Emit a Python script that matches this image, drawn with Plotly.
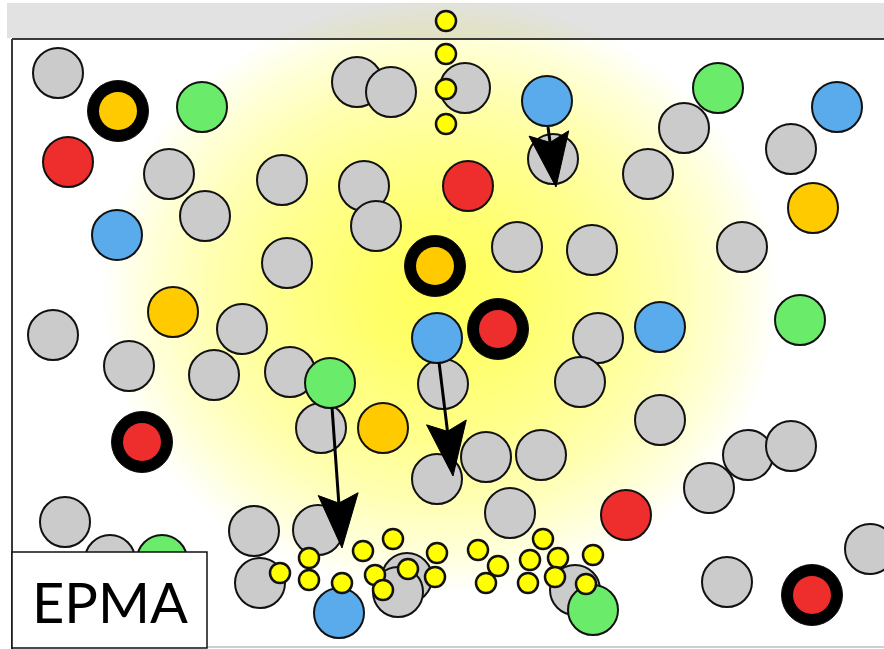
import plotly.graph_objects as go

# ---- data (schematic positions, image pixel units) ----
gray_x = [58, 357, 391, 465, 684, 791, 169, 282, 364, 553, 648, 205, 376, 287, 517, 592, 742,
          53, 242, 129, 214, 290, 443, 598, 580, 660, 321, 437, 486, 541, 510, 318, 254, 260,
          407, 398, 575, 709, 748, 791, 727, 870, 65, 110]
gray_y = [73, 82, 92, 88, 128, 149, 174, 180, 186, 159, 174, 216, 226, 263, 247, 250, 247,
          335, 329, 366, 375, 372, 384, 338, 382, 420, 428, 479, 457, 455, 513, 530, 531, 583,
          578, 592, 590, 488, 455, 446, 582, 549, 522, 560]

red_x = [68, 468, 626]
red_y = [162, 186, 515]
green_x = [202, 718, 800, 330, 593, 162]
green_y = [107, 88, 320, 383, 610, 560]
blue_x = [117, 547, 837, 437, 660, 339]
blue_y = [235, 101, 107, 338, 327, 613]
orange_x = [813, 173, 383]
orange_y = [208, 312, 428]

ring_x = [118, 435, 498, 142, 812]
ring_y = [111, 266, 329, 442, 595]
ring_fill = ["#ffcb00", "#ffcb00", "#ee2d2d", "#ee2d2d", "#ee2d2d"]

dot_x = [446, 446, 446, 446, 280, 309, 309, 342, 363, 393, 375, 383, 408, 437, 435,
         478, 498, 486, 543, 530, 528, 558, 555, 593, 586]
dot_y = [21, 54, 89, 124, 573, 558, 580, 583, 551, 539, 575, 590, 569, 553, 577,
         550, 566, 583, 539, 560, 583, 558, 577, 555, 584]

arrow_x0 = [548, 439, 332]
arrow_y0 = [127, 362, 407]
arrow_x1 = [556, 453, 342]
arrow_y1 = [187, 476, 548]

label = "EPMA"

W, H = 884, 649
fig = go.Figure()

def circles(xs, ys, color, size=50, lw=2):
    fig.add_trace(go.Scatter(
        x=xs, y=ys, mode="markers", hoverinfo="skip", showlegend=False,
        marker=dict(size=size, color=color, line=dict(color="#111111", width=lw))))

circles(gray_x, gray_y, "#cbcbcb")
circles(red_x, red_y, "#ee2d2d")
circles(green_x, green_y, "#6aeb6a")
circles(blue_x, blue_y, "#5aabeb")
circles(orange_x, orange_y, "#ffcb00")
circles(ring_x, ring_y, "#000000", size=61, lw=1)
fig.add_trace(go.Scatter(x=ring_x, y=ring_y, mode="markers", hoverinfo="skip", showlegend=False,
                         marker=dict(size=38, color=ring_fill, line=dict(width=0))))
circles(dot_x, dot_y, "#ffff00", size=20, lw=2.5)

shapes = []
# top gray bar
shapes.append(dict(type="rect", xref="x", yref="y", x0=7, x1=W, y0=3, y1=38,
                   fillcolor="#e2e2e2", line=dict(width=0), layer="below"))
# radial glow
N = 45
cx, cy, rx, ry = 440, 295, 335, 295
for i in range(N):
    f = 1 - i / N
    shapes.append(dict(type="circle", xref="x", yref="y",
                       x0=cx - rx * f, x1=cx + rx * f, y0=cy - ry * f, y1=cy + ry * f,
                       fillcolor="rgba(255,255,40,0.026)", line=dict(width=0), layer="below"))
# frame
shapes.append(dict(type="line", xref="x", yref="y", x0=12, x1=W, y0=39, y1=39,
                   line=dict(color="#3a3a3a", width=2), layer="below"))
shapes.append(dict(type="line", xref="x", yref="y", x0=12, x1=12, y0=39, y1=H,
                   line=dict(color="#3a3a3a", width=2), layer="below"))
shapes.append(dict(type="line", xref="x", yref="y", x0=12, x1=W, y0=647, y1=647,
                   line=dict(color="#cfcfcf", width=2), layer="below"))

# arrows
for x0, y0, x1, y1 in zip(arrow_x0, arrow_y0, arrow_x1, arrow_y1):
    dx, dy = x1 - x0, y1 - y0
    L = (dx * dx + dy * dy) ** 0.5
    ux, uy = dx / L, dy / L
    px, py = -uy, ux
    hl, hw, notch = 54, 20, 9
    bx, by = x1 - ux * hl, y1 - uy * hl
    shapes.append(dict(type="line", xref="x", yref="y", x0=x0, y0=y0,
                       x1=bx + ux * notch, y1=by + uy * notch,
                       line=dict(color="black", width=3), layer="above"))
    path = (f"M {x1} {y1} L {bx + px * hw} {by + py * hw} "
            f"L {bx + ux * notch} {by + uy * notch} "
            f"L {bx - px * hw} {by - py * hw} Z")
    shapes.append(dict(type="path", xref="x", yref="y", path=path,
                       fillcolor="black", line=dict(color="black", width=1), layer="above"))

# label box
shapes.append(dict(type="rect", xref="x", yref="y", x0=12, x1=207, y0=552, y1=648,
                   fillcolor="white", line=dict(color="#111111", width=1.5), layer="above"))

fig.update_layout(
    width=W, height=H, margin=dict(l=0, r=0, t=0, b=0),
    paper_bgcolor="white", plot_bgcolor="white",
    xaxis=dict(range=[0, W], visible=False, fixedrange=True),
    yaxis=dict(range=[H, 0], visible=False, fixedrange=True),
    shapes=shapes,
    annotations=[dict(x=110, y=601, xref="x", yref="y", text=label, showarrow=False,
                      font=dict(family="Lato, Open Sans, sans-serif", size=56, color="black"))],
)

fig.write_html("out.html", post_script="document.body.style.margin='0';",
               config={"displayModeBar": False})
